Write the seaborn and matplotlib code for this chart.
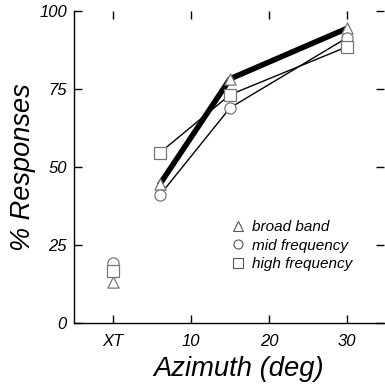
import pandas as pd
import seaborn as sns
import matplotlib.pyplot as plt
from matplotlib.lines import Line2D

azimuth = [6, 15, 30]
broad_band = [44.5, 78.3, 94.5]
mid_freq = [41, 69, 91.5]
high_freq = [54.6, 73.2, 88.6]
xt_vals = {'broad band': 13, 'mid frequency': 19.3, 'high frequency': 16.8}
xt_pos = 0

sns.set_style('ticks')
plt.rcParams['font.family'] = ['Liberation Sans', 'DejaVu Sans']

fig = plt.figure(figsize=(3.85, 3.85), dpi=100)
ax = fig.add_axes([0.192, 0.161, 0.805, 0.81])

series = [('broad band', broad_band, '^', 4.0),
          ('mid frequency', mid_freq, 'o', 1.0),
          ('high frequency', high_freq, 's', 1.0)]

for name, vals, mk, lw in series:
    df = pd.DataFrame({'az': azimuth, 'resp': vals})
    sns.lineplot(data=df, x='az', y='resp', color='black', linewidth=lw, ax=ax, zorder=2)

for name, vals, mk, lw in series:
    df = pd.DataFrame({'az': azimuth + [xt_pos], 'resp': vals + [xt_vals[name]]})
    sns.scatterplot(data=df, x='az', y='resp', marker=mk, s=65, facecolor='white',
                    edgecolor='#777777', linewidth=0.9, ax=ax, zorder=3)

ax.set_xlim(-5, 34.7)
ax.set_ylim(0, 100)
ax.set_xticks([0, 10, 20, 30])
ax.set_xticklabels(['XT', '10', '20', '30'])
ax.set_yticks([0, 25, 50, 75, 100])
ax.tick_params(direction='in', length=6, width=1, top=True, right=True,
               labelsize=12, colors='black')
for lab in ax.get_xticklabels() + ax.get_yticklabels():
    lab.set_fontstyle('italic')
ax.tick_params(axis='x', pad=8)
ax.tick_params(axis='y', pad=5)
sns.despine(ax=ax, top=True, right=True)
for sp in ['left', 'bottom']:
    ax.spines[sp].set_linewidth(1)
    ax.spines[sp].set_color('black')

ax.set_xlabel('Azimuth (deg)', fontsize=19.7, fontstyle='italic', color='black',
              labelpad=5, x=0.53)
ax.set_ylabel('% Responses', fontsize=19.5, fontstyle='italic', color='black', labelpad=2)

handles = [Line2D([], [], linestyle='none', marker=mk, markersize=6.5, markerfacecolor='white',
                  markeredgecolor='#555555', markeredgewidth=0.8, label=name)
           for name, vals, mk, lw in series]
leg = ax.legend(handles=handles, frameon=False, loc='upper left', bbox_to_anchor=(0.48, 0.35),
                handletextpad=0.3, labelspacing=0.3, borderaxespad=0, handlelength=1.2,
                prop={'style': 'italic', 'size': 11})
for t in leg.get_texts():
    t.set_color('black')

fig.savefig('out.png', dpi=100)
